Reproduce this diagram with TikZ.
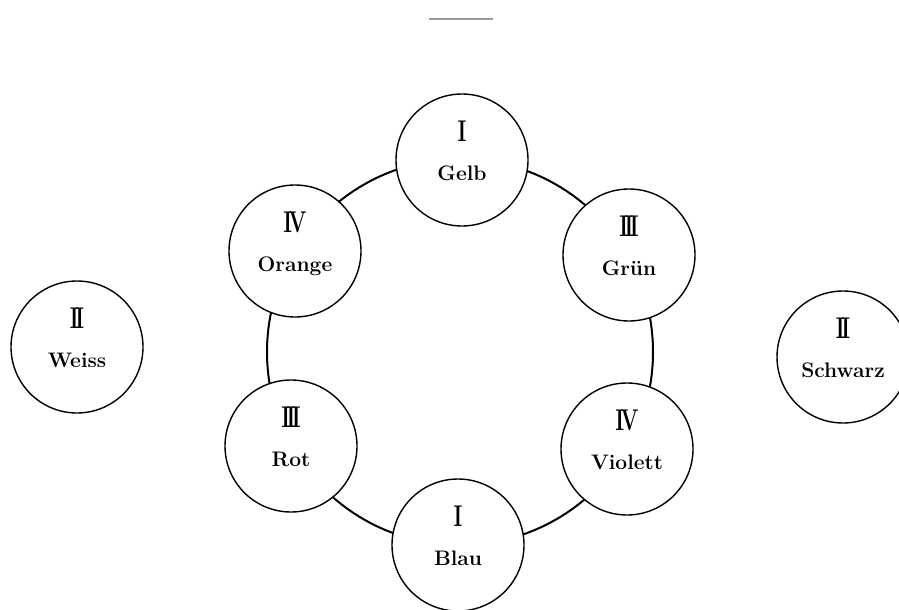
\documentclass[tikz,border=0pt]{standalone}
\usepackage{fontspec}
\usepackage{graphicx}
\newcommand{\rnum}[1]{\scalebox{0.7}[1]{#1}}
\tikzset{
  colbox/.style={circle, draw=black, line width=1.4pt, fill=white, minimum size=132pt, inner sep=0pt},
  numtxt/.style={anchor=base, inner sep=0pt, font=\fontsize{30}{34}\selectfont\bfseries},
  labtxt/.style={anchor=base, inner sep=0pt, font=\fontsize{21}{25}\selectfont\bfseries},
  ring/.style={draw=black, line width=2pt},
  scanline/.style={draw=gray!80, line width=2pt}
}
\begin{document}
\begin{tikzpicture}[x=1pt,y=-1pt]
\useasboundingbox (0,0) rectangle (899,610);
% scan mark at the top
\coordinate (lA) at (429,19);
\coordinate (lB) at (493,19);
\draw[scanline] (lA) -- (lB);
% ring
\coordinate (mid) at (460,352);
\draw[ring] (mid) circle[radius=193pt];
% colour circles
\node[colbox] (gelb)    at (462,160) {};
\node[colbox] (gruen)   at (629,255) {};
\node[colbox] (violett) at (627,449) {};
\node[colbox] (blau)    at (458,545) {};
\node[colbox] (rot)     at (291,446) {};
\node[colbox] (orange)  at (295,251) {};
\node[colbox] (weiss)   at (77,347) {};
\node[colbox] (schwarz) at (843,357) {};
% numerals
\node[numtxt] (gelbN)    at ([yshift=19pt]gelb.center)    {\rnum{I}};
\node[numtxt] (gruenN)   at ([yshift=19pt]gruen.center)   {\rnum{I\kern-5pt I\kern-5pt I}};
\node[numtxt] (violettN) at ([yshift=19pt]violett.center) {\rnum{I\kern-5pt V}};
\node[numtxt] (blauN)    at ([yshift=19pt]blau.center)    {\rnum{I}};
\node[numtxt] (rotN)     at ([yshift=19pt]rot.center)     {\rnum{I\kern-5pt I\kern-5pt I}};
\node[numtxt] (orangeN)  at ([yshift=19pt]orange.center)  {\rnum{I\kern-5pt V}};
\node[numtxt] (weissN)   at ([yshift=19pt]weiss.center)   {\rnum{I\kern-5pt I}};
\node[numtxt] (schwarzN) at ([yshift=19pt]schwarz.center) {\rnum{I\kern-5pt I}};
% names
\node[labtxt] (gelbL)    at ([yshift=-20pt]gelb.center)    {Gelb};
\node[labtxt] (gruenL)   at ([yshift=-20pt]gruen.center)   {Grün};
\node[labtxt] (violettL) at ([yshift=-20pt]violett.center) {Violett};
\node[labtxt] (blauL)    at ([yshift=-20pt]blau.center)    {Blau};
\node[labtxt] (rotL)     at ([yshift=-20pt]rot.center)     {Rot};
\node[labtxt] (orangeL)  at ([yshift=-20pt]orange.center)  {Orange};
\node[labtxt] (weissL)   at ([yshift=-20pt]weiss.center)   {Weiss};
\node[labtxt] (schwarzL) at ([yshift=-20pt]schwarz.center) {Schwarz};
\end{tikzpicture}
\end{document}
